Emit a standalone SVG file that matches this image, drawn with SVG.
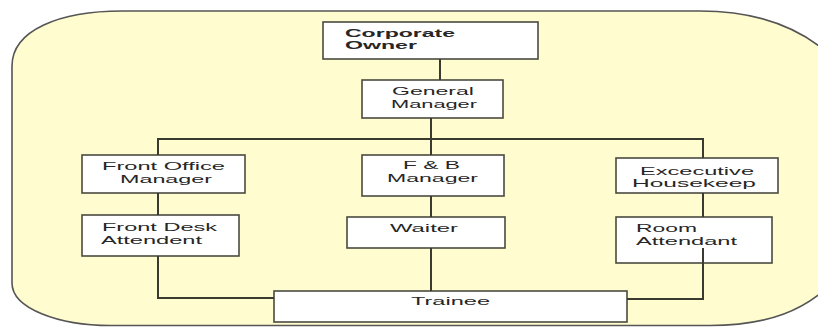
<svg xmlns="http://www.w3.org/2000/svg" width="818" height="327" viewBox="0 0 818 327">
<style>
.bg{fill:#fffccf;stroke:#555;stroke-width:1.6}
.box{fill:#fff;stroke:#4a4a40;stroke-width:1.6}
.t{font-family:"Liberation Sans",Arial,sans-serif;font-size:11.5px;fill:#262626}
.b{font-weight:bold}
.c{fill:none;stroke:#3a3a30;stroke-width:2}
</style>
<rect x="0" y="0" width="818" height="327" fill="#fff"/>
<path class="bg" d="M12,66 C12,30 60,11 122,11 L700,11 C760,11 800,28 830,55 L830,285 C805,309 770,325.5 710,325.5 L110,325.5 C60,325.5 12,309 12,283 Z"/>
<g id="corporate-owner">
<rect class="box" x="323" y="22" width="215" height="37"/>
<text class="t b" x="345" y="36.5" textLength="110" lengthAdjust="spacingAndGlyphs">Corporate</text>
<text class="t b" x="345" y="49" textLength="72" lengthAdjust="spacingAndGlyphs">Owner</text>
</g>
<g id="general-manager">
<rect class="box" x="362" y="80" width="141" height="38"/>
<text class="t" x="392" y="94.5" textLength="82" lengthAdjust="spacingAndGlyphs">General</text>
<text class="t" x="391" y="107.5" textLength="86" lengthAdjust="spacingAndGlyphs">Manager</text>
</g>
<g id="front-office-manager">
<rect class="box" x="82" y="155" width="163" height="38"/>
<text class="t" x="102" y="170" textLength="123" lengthAdjust="spacingAndGlyphs">Front Office</text>
<text class="t" x="120" y="182.5" textLength="92" lengthAdjust="spacingAndGlyphs">Manager</text>
</g>
<g id="fb-manager">
<rect class="box" x="362" y="155" width="142" height="41"/>
<text class="t" x="403" y="169" textLength="57" lengthAdjust="spacingAndGlyphs">F &amp; B</text>
<text class="t" x="387" y="182" textLength="91" lengthAdjust="spacingAndGlyphs">Manager</text>
</g>
<g id="executive-housekeep">
<rect class="box" x="616" y="158" width="162" height="35"/>
<text class="t" x="640" y="174.5" textLength="114" lengthAdjust="spacingAndGlyphs">Excecutive</text>
<text class="t" x="632" y="187" textLength="124" lengthAdjust="spacingAndGlyphs">Housekeep</text>
</g>
<g id="front-desk-attendent">
<rect class="box" x="82" y="215" width="157" height="41"/>
<text class="t" x="102" y="231" textLength="115" lengthAdjust="spacingAndGlyphs">Front Desk</text>
<text class="t" x="101" y="244" textLength="101" lengthAdjust="spacingAndGlyphs">Attendent</text>
</g>
<g id="waiter">
<rect class="box" x="347" y="217" width="158" height="31"/>
<text class="t" x="390" y="232" textLength="68" lengthAdjust="spacingAndGlyphs">Waiter</text>
</g>
<g id="room-attendant">
<rect class="box" x="616" y="217" width="156" height="46"/>
<text class="t" x="636" y="231.5" textLength="61" lengthAdjust="spacingAndGlyphs">Room</text>
<text class="t" x="636" y="244.5" textLength="101" lengthAdjust="spacingAndGlyphs">Attendant</text>
</g>
<g id="trainee">
<rect class="box" x="274" y="291" width="353" height="31"/>
<text class="t" x="411" y="305" textLength="79" lengthAdjust="spacingAndGlyphs">Trainee</text>
</g>
<g id="connectors">
<path class="c" d="M440,59 V80"/>
<path class="c" d="M431,118 V155"/>
<path class="c" d="M158,155 V139 H703 V158"/>
<path class="c" d="M158,193 V215"/>
<path class="c" d="M158,256 V298 H274"/>
<path class="c" d="M431,196 V217"/>
<path class="c" d="M431,248 V291"/>
<path class="c" d="M703,193 V217"/>
<path class="c" d="M703,248 V299 H627"/>
</g>
</svg>
